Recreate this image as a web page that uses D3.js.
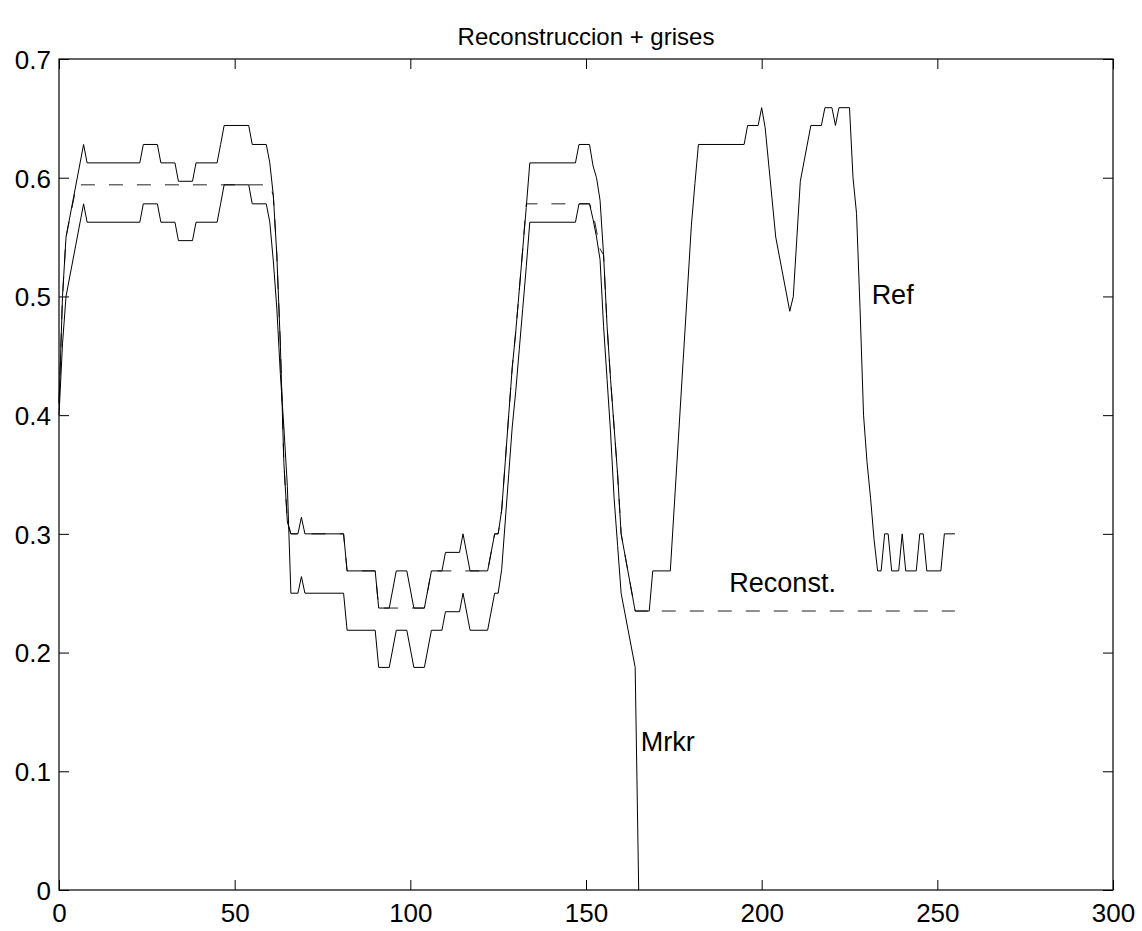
<!DOCTYPE html>
<html>
<head>
<meta charset="utf-8">
<script src="https://cdn.jsdelivr.net/npm/d3@7"></script>
<style>
  body { margin: 0; background: #fff; }
  svg { display: block; }
  text { font-family: "Liberation Sans", Arial, Helvetica, sans-serif; fill: #000; }
</style>
</head>
<body>
<svg id="chart" width="1142" height="931"></svg>
<script>
const chartTitle = 'Reconstruccion + grises';
const xTicks = [0, 50, 100, 150, 200, 250, 300];
const yTicks = [0, 0.1, 0.2, 0.3, 0.4, 0.5, 0.6, 0.7];

// Ref (upper solid line), vertices
const refX = [0, 1, 2, 7, 8, 23, 24, 28, 29, 33,
  34, 38, 39, 45, 46, 47, 54, 55, 59, 60,
  61, 62, 63, 64, 65, 66, 68, 69, 70, 81,
  82, 90, 91, 94, 96, 99, 101, 104, 106, 109,
  110, 114, 115, 117, 122, 124, 125, 126, 127, 128,
  129, 130, 131, 132, 133, 134, 147, 148, 151, 152,
  153, 154, 155, 156, 157, 158, 159, 160, 164, 168,
  169, 174, 180, 181, 182, 195, 196, 199, 200, 201,
  204, 208, 209, 211, 214, 217, 218, 220, 221, 222,
  225, 226, 227, 228, 229, 230, 231, 232, 233, 234,
  235, 236, 237, 239, 240, 241, 244, 245, 246, 247,
  251, 252, 255];
const refY = [0.41, 0.50, 0.55, 0.628, 0.6125, 0.6125, 0.628, 0.628, 0.6125, 0.6125,
  0.597, 0.597, 0.6125, 0.6125, 0.628, 0.644, 0.644, 0.628, 0.628, 0.6125,
  0.585, 0.535, 0.46, 0.36, 0.31, 0.30, 0.30, 0.314, 0.30, 0.30,
  0.2688, 0.2688, 0.2375, 0.2375, 0.2688, 0.2688, 0.2375, 0.2375, 0.2688, 0.2688,
  0.2844, 0.2844, 0.30, 0.2688, 0.2688, 0.30, 0.30, 0.32, 0.36, 0.40,
  0.44, 0.47, 0.505, 0.54, 0.575, 0.6125, 0.6125, 0.628, 0.628, 0.61,
  0.60, 0.581, 0.535, 0.475, 0.43, 0.39, 0.35, 0.30, 0.235, 0.235,
  0.2688, 0.2688, 0.56, 0.595, 0.628, 0.628, 0.644, 0.644, 0.659, 0.642,
  0.55, 0.4875, 0.50, 0.597, 0.644, 0.644, 0.659, 0.659, 0.644, 0.659,
  0.659, 0.60, 0.57, 0.49, 0.40, 0.36, 0.33, 0.295, 0.2688, 0.2688,
  0.30, 0.30, 0.2688, 0.2688, 0.30, 0.2688, 0.2688, 0.30, 0.30, 0.2688,
  0.2688, 0.30, 0.30];

// Mrkr (lower solid line)
const mrkrX = [0, 1, 2, 7, 8, 23, 24, 28, 29, 33,
  34, 38, 39, 45, 46, 47, 54, 55, 59, 60,
  61, 62, 63, 64, 65, 66, 68, 69, 70, 81,
  82, 90, 91, 94, 96, 99, 101, 104, 106, 109,
  110, 114, 115, 117, 122, 124, 125, 126, 127, 128,
  129, 130, 131, 132, 133, 134, 147, 148, 151, 152,
  153, 154, 155, 156, 157, 158, 159, 160, 164, 165];
const mrkrY = [0.40, 0.46, 0.50, 0.578, 0.5625, 0.5625, 0.578, 0.578, 0.5625, 0.5625,
  0.547, 0.547, 0.5625, 0.5625, 0.578, 0.594, 0.594, 0.578, 0.578, 0.5625,
  0.53, 0.49, 0.435, 0.39, 0.34, 0.25, 0.25, 0.264, 0.25, 0.25,
  0.2188, 0.2188, 0.1875, 0.1875, 0.2188, 0.2188, 0.1875, 0.1875, 0.2188, 0.2188,
  0.2344, 0.2344, 0.25, 0.2188, 0.2188, 0.25, 0.25, 0.27, 0.31, 0.35,
  0.39, 0.42, 0.455, 0.49, 0.525, 0.5625, 0.5625, 0.578, 0.578, 0.565,
  0.55, 0.531, 0.475, 0.43, 0.385, 0.33, 0.29, 0.25, 0.1875, 0];

// Reconst. (dashed line)
const reconX = [0, 1, 2, 5, 60, 61, 62, 63, 64, 65,
  66, 81, 82, 90, 91, 104, 106, 122, 124, 125,
  126, 127, 128, 129, 130, 131, 132, 133, 151, 152,
  153, 154, 155, 156, 157, 158, 159, 160, 164, 255];
const reconY = [0.41, 0.50, 0.55, 0.594, 0.594, 0.585, 0.535, 0.46, 0.36, 0.31,
  0.30, 0.30, 0.2688, 0.2688, 0.2375, 0.2375, 0.2688, 0.2688, 0.30, 0.30,
  0.32, 0.36, 0.40, 0.44, 0.47, 0.505, 0.54, 0.578, 0.578, 0.57,
  0.555, 0.54, 0.535, 0.475, 0.43, 0.39, 0.35, 0.30, 0.235, 0.235];

// text labels placed in data coordinates
const labelText = ['Ref', 'Reconst.', 'Mrkr'];
const labelX = [231.3, 190.8, 165.6];
const labelY = [0.502, 0.259, 0.125];

const W = 1142, H = 931;
const margin = { top: 59, right: 29, bottom: 41, left: 59 };

const svg = d3.select('#chart');
const x = d3.scaleLinear().domain([0, 300]).range([margin.left, W - margin.right]);
const y = d3.scaleLinear().domain([0, 0.7]).range([H - margin.bottom, margin.top]);

const fmt = d3.format('~g');

svg.append('g')
  .attr('transform', `translate(0,${y(0)})`)
  .call(d3.axisBottom(x).tickValues(xTicks).tickFormat(fmt).tickSizeInner(-10).tickSizeOuter(0).tickPadding(14))
  .call((g) => g.select('.domain').remove())
  .call((g) => g.selectAll('text').attr('font-size', 26).attr('font-family', null));

svg.append('g')
  .attr('transform', `translate(0,${y(0.7)})`)
  .call(d3.axisTop(x).tickValues(xTicks).tickFormat('').tickSizeInner(-10).tickSizeOuter(0))
  .call((g) => g.select('.domain').remove());

svg.append('g')
  .attr('transform', `translate(${x(0)},0)`)
  .call(d3.axisLeft(y).tickValues(yTicks).tickFormat(fmt).tickSizeInner(-10).tickSizeOuter(0).tickPadding(8))
  .call((g) => g.select('.domain').remove())
  .call((g) => g.selectAll('text').attr('font-size', 26).attr('font-family', null).attr('dy', '0.36em'));

svg.append('g')
  .attr('transform', `translate(${x(300)},0)`)
  .call(d3.axisRight(y).tickValues(yTicks).tickFormat('').tickSizeInner(-10).tickSizeOuter(0))
  .call((g) => g.select('.domain').remove());

svg.selectAll('.tick line').attr('stroke', '#000');

svg.append('rect')
  .attr('x', x(0)).attr('y', y(0.7))
  .attr('width', x(300) - x(0)).attr('height', y(0) - y(0.7))
  .attr('fill', 'none').attr('stroke', '#000').attr('stroke-width', 1.2);

const line = d3.line().x((d) => x(d[0])).y((d) => y(d[1]));

svg.append('path')
  .datum(d3.zip(reconX, reconY))
  .attr('d', line)
  .attr('fill', 'none')
  .attr('stroke', '#222')
  .attr('stroke-width', 1)
  .attr('stroke-dasharray', '14,14');

svg.append('path')
  .datum(d3.zip(mrkrX, mrkrY))
  .attr('d', line)
  .attr('fill', 'none')
  .attr('stroke', '#000')
  .attr('stroke-width', 1);

svg.append('path')
  .datum(d3.zip(refX, refY))
  .attr('d', line)
  .attr('fill', 'none')
  .attr('stroke', '#000')
  .attr('stroke-width', 1);

svg.append('g')
  .selectAll('text')
  .data(labelText)
  .join('text')
  .attr('x', (d, i) => x(labelX[i]))
  .attr('y', (d, i) => y(labelY[i]))
  .attr('dy', '0.36em')
  .attr('font-size', 27)
  .text((d) => d);

svg.append('text')
  .attr('x', (x(0) + x(300)) / 2)
  .attr('y', 45)
  .attr('text-anchor', 'middle')
  .attr('font-size', 24)
  .text(chartTitle);
</script>
</body>
</html>
